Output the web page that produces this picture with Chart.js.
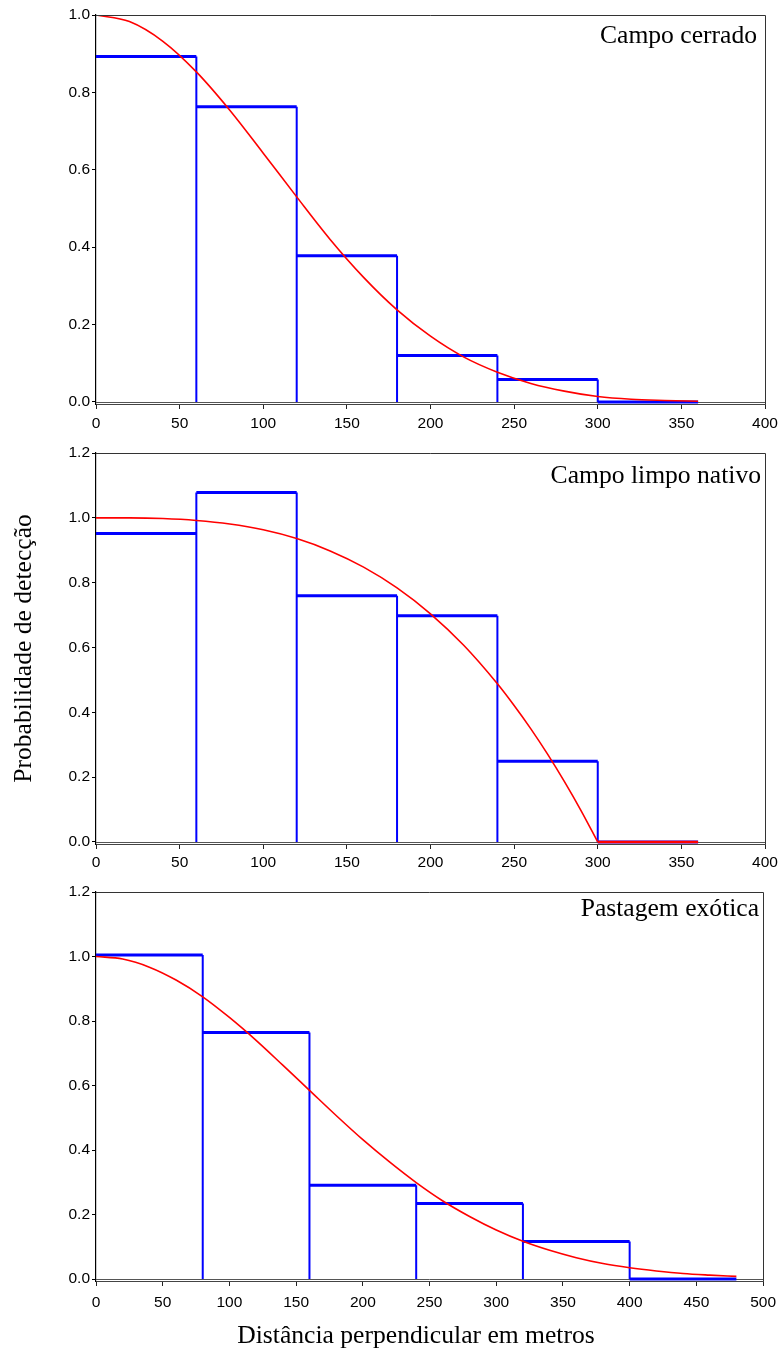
<!DOCTYPE html>
<html><head><meta charset="utf-8">
<script src="https://cdn.jsdelivr.net/npm/chart.js@4.4.1/dist/chart.umd.min.js"></script>
<style>
html,body{margin:0;padding:0;background:#fff;overflow:hidden;}
#wrap{position:relative;width:783px;height:1350px;}
canvas{position:absolute;left:0;}
</style></head><body>
<div id="wrap">
<canvas id="c1" width="783" height="440" style="top:0px"></canvas>
<canvas id="c2" width="783" height="440" style="top:440px"></canvas>
<canvas id="c3" width="783" height="472" style="top:878px"></canvas>
</div>
<script>
// ---------- data ----------
const panelTitles = ["Campo cerrado", "Campo limpo nativo", "Pastagem exótica"];
const yAxisTitle = "Probabilidade de detecção";
const xAxisTitle = "Distância perpendicular em metros";

const binEdges1 = [0, 60, 120, 180, 240, 300, 360];
const binHeights1 = [0.893, 0.763, 0.378, 0.120, 0.058, 0];
const curveX1 = [0, 20, 40, 60, 80, 100, 120, 140, 160, 180, 200, 220, 240, 260, 280, 300, 320, 340, 360];
const curveY1 = [1.0, 0.983, 0.932, 0.853, 0.754, 0.643, 0.530, 0.420, 0.322, 0.238, 0.170, 0.116, 0.077, 0.048, 0.028, 0.014, 0.007, 0.004, 0.002];

const binEdges2 = [0, 60, 120, 180, 240, 300, 360];
const binHeights2 = [0.952, 1.078, 0.760, 0.698, 0.249, 0];
const curveX2 = [0, 20, 40, 60, 80, 100, 120, 140, 160, 180, 200, 220, 240, 250, 260, 270, 280, 290, 300];
const curveY2 = [1.0, 1.0, 0.998, 0.992, 0.981, 0.963, 0.936, 0.898, 0.848, 0.784, 0.704, 0.606, 0.488, 0.421, 0.349, 0.271, 0.187, 0.097, 0];
const tailX2 = [300, 360];
const tailY2 = [0, 0];

const binEdges3 = [0, 80, 160, 240, 320, 400, 480];
const binHeights3 = [1.005, 0.764, 0.291, 0.234, 0.116, 0];
const curveX3 = [0, 20, 40, 60, 80, 100, 120, 140, 160, 180, 200, 220, 240, 260, 280, 300, 320, 340, 360, 380, 400, 420, 440, 460, 480];
const curveY3 = [1.0, 0.992, 0.967, 0.927, 0.875, 0.811, 0.740, 0.663, 0.585, 0.507, 0.432, 0.363, 0.299, 0.242, 0.194, 0.152, 0.117, 0.089, 0.066, 0.048, 0.035, 0.025, 0.017, 0.012, 0.008];

const xTicks12 = [0, 50, 100, 150, 200, 250, 300, 350, 400];
const xTicks3 = [0, 50, 100, 150, 200, 250, 300, 350, 400, 450, 500];
const yTicks1 = [0, 0.2, 0.4, 0.6, 0.8, 1.0];
const yTicks23 = [0, 0.2, 0.4, 0.6, 0.8, 1.0, 1.2];

// ---------- helpers ----------
const BLUE = '#0000ff', RED = '#ff0000';
const SERIF = '"Liberation Serif", "Times New Roman", serif';
const SANS = '"Liberation Sans", Arial, sans-serif';

function xy(xs, ys) { return xs.map((x, i) => ({x: x, y: ys[i]})); }
function histTops(edges, h) {
  const pts = [];
  for (let i = 0; i < h.length; i++) {
    pts.push({x: edges[i], y: h[i]}, {x: edges[i + 1], y: h[i]}, {x: edges[i + 1], y: null});
  }
  return pts;
}
function histSides(edges, h) {
  const pts = [];
  for (let i = 1; i < edges.length; i++) {
    const top = Math.max(h[i - 1], i < h.length ? h[i] : 0);
    if (top > 0) pts.push({x: edges[i], y: 0}, {x: edges[i], y: top}, {x: edges[i], y: null});
  }
  return pts;
}

const framePlugin = {
  id: 'frame',
  beforeDatasetsDraw(chart) {
    const {ctx, chartArea: a, scales: {y}} = chart;
    const y0 = Math.round(y.getPixelForValue(0)) + 0.5;
    ctx.save();
    ctx.strokeStyle = '#555'; ctx.lineWidth = 1;
    ctx.beginPath(); ctx.moveTo(a.left, y0); ctx.lineTo(a.right, y0); ctx.stroke();
    ctx.restore();
  },
  afterDraw(chart, args, opts) {
    const {ctx, chartArea: a} = chart;
    ctx.save();
    ctx.strokeStyle = '#333'; ctx.lineWidth = 1;
    ctx.beginPath();
    ctx.moveTo(a.left, Math.round(a.top) + 0.5);
    ctx.lineTo(Math.round(a.right) + 0.5, Math.round(a.top) + 0.5);
    ctx.lineTo(Math.round(a.right) + 0.5, a.bottom);
    ctx.stroke();
    ctx.fillStyle = '#000';
    ctx.font = '25.6px ' + SERIF;
    ctx.textAlign = 'right'; ctx.textBaseline = 'alphabetic';
    ctx.fillText(opts.title, a.right - opts.titleRight, a.top + opts.titleDy);
    if (opts.xTitle) {
      ctx.textAlign = 'center';
      ctx.fillText(opts.xTitle, opts.xTitleX, opts.xTitleY);
    }
    ctx.restore();
  }
};

function makeChart(id, cfg) {
  const datasets = [
    {data: xy(cfg.curveX, cfg.curveY), borderColor: RED, borderWidth: 1.6, pointRadius: 0,
     cubicInterpolationMode: 'monotone', fill: false}
  ];
  if (cfg.tailX) datasets.push({data: xy(cfg.tailX, cfg.tailY), borderColor: RED, borderWidth: 2.5, pointRadius: 0, fill: false});
  datasets.push({data: histTops(cfg.edges, cfg.heights), borderColor: BLUE, borderWidth: 3, pointRadius: 0, spanGaps: false, fill: false, tension: 0});
  datasets.push({data: histSides(cfg.edges, cfg.heights), borderColor: BLUE, borderWidth: 2, pointRadius: 0, spanGaps: false, fill: false, tension: 0});

  return new Chart(document.getElementById(id), {
    type: 'line',
    data: {datasets: datasets},
    options: {
      responsive: false, animation: false, devicePixelRatio: 1,
      layout: {padding: {top: cfg.padTop, right: 18, left: 0, bottom: 0}},
      plugins: {
        legend: {display: false}, tooltip: {enabled: false},
        frame: {title: cfg.title, titleRight: cfg.titleRight, titleDy: cfg.titleDy,
                xTitle: cfg.xTitle, xTitleX: 416, xTitleY: 465}
      },
      scales: {
        x: {
          type: 'linear', min: 0, max: cfg.xMax,
          afterBuildTicks: s => { s.ticks = cfg.xTicks.map(v => ({value: v})); },
          afterFit: s => { s.height = cfg.xHeight; },
          ticks: {autoSkip: false, maxRotation: 0, padding: cfg.xPad, color: '#000',
                  font: {family: SANS, size: 15.5}, callback: v => String(v)},
          grid: {drawOnChartArea: false, drawTicks: true, tickLength: 5, color: '#222'},
          border: {display: true, color: '#444', width: 1}
        },
        y: {
          type: 'linear', min: cfg.yMin, max: cfg.yMax,
          afterBuildTicks: s => { s.ticks = cfg.yTicks.map(v => ({value: v})); },
          afterFit: s => { s.width = 96; },
          ticks: {padding: 2, color: '#000', font: {family: SANS, size: 15.5},
                  callback: v => Number(v).toFixed(1)},
          grid: {drawOnChartArea: false, drawTicks: true, tickLength: 4, color: '#000'},
          border: {display: true, color: '#000', width: 1.2},
          title: cfg.yTitle ? {display: true, text: cfg.yTitle, color: '#000',
                  font: {family: SERIF, size: 25.6}, padding: {top: 9, bottom: 0}} : {display: false}
        }
      }
    },
    plugins: [framePlugin]
  });
}

makeChart('c1', {edges: binEdges1, heights: binHeights1, curveX: curveX1, curveY: curveY1,
  xMax: 400, xTicks: xTicks12, yMin: -0.0052, yMax: 1.0, yTicks: yTicks1,
  padTop: 15, xHeight: 36, xPad: 5, title: panelTitles[0], titleRight: 8, titleDy: 28});

makeChart('c2', {edges: binEdges2, heights: binHeights2, curveX: curveX2, curveY: curveY2,
  tailX: tailX2, tailY: tailY2,
  xMax: 400, xTicks: xTicks12, yMin: -0.0062, yMax: 1.2, yTicks: yTicks23,
  padTop: 13, xHeight: 36, xPad: 4, title: panelTitles[1], titleRight: 4, titleDy: 30,
  yTitle: yAxisTitle});

makeChart('c3', {edges: binEdges3, heights: binHeights3, curveX: curveX3, curveY: curveY3,
  xMax: 500, xTicks: xTicks3, yMin: -0.0062, yMax: 1.2, yTicks: yTicks23,
  padTop: 14, xHeight: 69, xPad: 7, title: panelTitles[2], titleRight: 4, titleDy: 24,
  xTitle: xAxisTitle});
</script>
</body></html>
